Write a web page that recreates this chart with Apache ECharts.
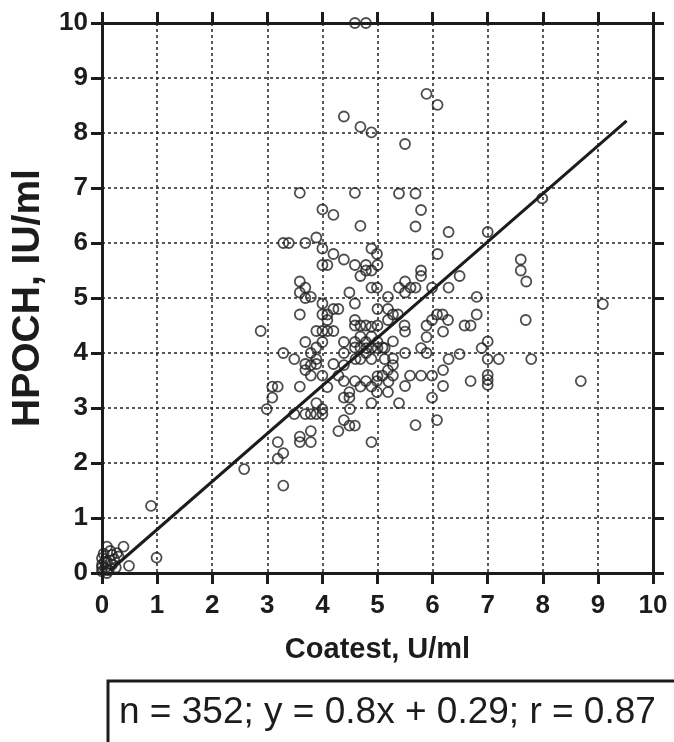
<!DOCTYPE html>
<html>
<head>
<meta charset="utf-8">
<script src="https://cdn.jsdelivr.net/npm/echarts@6/dist/echarts.min.js"></script>
<style>
  html, body { margin: 0; padding: 0; background: #fff; }
  #chart { width: 674px; height: 742px; }
</style>
</head>
<body>
<div id="chart"></div>
<script>
// Coatest (x) and HPOCH (y) readings
const coatest = [
  0.00, 0.09, 0.06, 0.00, 0.18, 0.09, 0.00, 0.18, 0.27, 0.09, 0.39, 0.49, 0.03, 0.12, 0.22, 0.30, 0.05, 0.15, 0.00, 0.25,
  0.99, 0.89, 2.58, 3.29,
  4.59, 4.79, 5.89, 6.09, 4.39, 4.69, 4.89, 5.50,
  3.59, 4.59, 5.39, 5.69, 7.99, 4.00, 5.79, 4.20,
  4.69, 5.69, 6.29, 7.00, 3.29, 3.39, 3.69, 3.89,
  4.00, 4.89, 4.20, 4.99, 6.09, 4.39, 7.60,
  4.00, 4.09, 4.59, 4.79, 5.00, 4.79, 4.89, 5.79, 7.60,
  4.69, 5.79, 6.49, 3.59, 5.50, 7.70,
  3.69, 4.89, 4.99, 5.39, 5.60, 5.69, 5.99, 6.29,
  3.59, 4.49, 5.50, 3.69, 3.79, 5.19, 6.80,
  4.00, 4.59, 9.09, 4.20, 4.29, 5.00, 5.19,
  3.59, 4.00, 4.09, 5.28, 5.37, 6.08, 6.18, 6.80,
  4.09, 4.59, 5.19, 5.99, 6.28, 7.69,
  4.59, 4.69, 4.79, 5.00, 5.49, 5.89, 6.58, 6.69, 4.89,
  2.88, 3.89, 4.00, 4.09, 4.20, 5.50, 6.19,
  4.69, 4.89, 5.89,
  3.69, 4.00, 4.39, 4.59, 4.79, 5.00, 5.28, 7.00,
  3.89, 4.59, 4.69, 4.89, 5.09, 4.80, 5.00, 5.13, 5.79, 6.89,
  3.29, 3.79, 4.39, 4.79, 5.50, 5.89, 6.49,
  3.49, 3.89, 4.89, 4.60, 4.69, 5.13, 5.28, 6.29, 7.00, 7.20, 7.79,
  3.69, 3.79, 3.89, 4.20, 4.39, 5.28,
  3.69, 5.19, 6.19,
  3.79, 4.00, 4.29, 5.09, 5.00, 5.28, 5.59, 5.79, 5.99, 7.00,
  4.39, 4.59, 4.79, 4.99, 5.20, 6.69, 7.00, 8.69,
  3.09, 3.19, 3.59, 4.69, 4.89, 4.09, 5.50, 6.19, 7.00,
  4.49, 4.99, 5.19,
  3.09, 4.39, 4.49, 5.99,
  3.89, 4.89, 5.39,
  2.99, 4.00, 4.50,
  3.49, 3.69, 3.79, 3.89, 4.00,
  4.39, 6.08, 4.49, 4.59, 5.69,
  3.79, 4.29, 3.59, 3.59, 3.79, 4.89, 3.19,
  3.29, 3.19
];
const hpoch = [
  0.03, 0.00, 0.09, 0.15, 0.15, 0.21, 0.27, 0.33, 0.36, 0.48, 0.48, 0.13, 0.35, 0.05, 0.25, 0.30, 0.20, 0.40, 0.10, 0.10,
  0.28, 1.22, 1.89, 1.59,
  10.0, 10.0, 8.71, 8.51, 8.30, 8.11, 8.01, 7.80,
  6.91, 6.91, 6.90, 6.90, 6.81, 6.61, 6.60, 6.51,
  6.31, 6.30, 6.20, 6.20, 6.00, 6.00, 6.00, 6.10,
  5.90, 5.90, 5.80, 5.80, 5.80, 5.70, 5.70,
  5.60, 5.60, 5.60, 5.60, 5.60, 5.50, 5.50, 5.50, 5.50,
  5.40, 5.40, 5.40, 5.30, 5.30, 5.30,
  5.19, 5.19, 5.19, 5.19, 5.19, 5.19, 5.19, 5.19,
  5.10, 5.10, 5.10, 5.00, 5.02, 5.02, 5.02,
  4.90, 4.90, 4.89, 4.80, 4.80, 4.80, 4.80,
  4.70, 4.70, 4.70, 4.70, 4.70, 4.70, 4.70, 4.70,
  4.60, 4.60, 4.60, 4.60, 4.60, 4.60,
  4.50, 4.50, 4.50, 4.50, 4.50, 4.50, 4.50, 4.50, 4.48,
  4.40, 4.40, 4.40, 4.40, 4.40, 4.39, 4.39,
  4.30, 4.30, 4.29,
  4.20, 4.20, 4.20, 4.20, 4.20, 4.20, 4.21, 4.21,
  4.10, 4.10, 4.10, 4.10, 4.10, 4.09, 4.09, 4.09, 4.09, 4.09,
  4.00, 4.00, 4.00, 4.00, 4.00, 4.00, 3.98,
  3.89, 3.89, 3.89, 3.89, 3.89, 3.89, 3.90, 3.89, 3.89, 3.89, 3.89,
  3.80, 3.78, 3.80, 3.80, 3.78, 3.78,
  3.69, 3.69, 3.69,
  3.59, 3.59, 3.59, 3.59, 3.58, 3.59, 3.59, 3.59, 3.59, 3.60,
  3.49, 3.49, 3.49, 3.49, 3.48, 3.49, 3.51, 3.49,
  3.39, 3.39, 3.39, 3.39, 3.39, 3.38, 3.40, 3.40, 3.42,
  3.29, 3.29, 3.29,
  3.19, 3.19, 3.19, 3.19,
  3.09, 3.09, 3.09,
  2.98, 2.98, 2.98,
  2.89, 2.89, 2.89, 2.89, 2.89,
  2.78, 2.78, 2.68, 2.68, 2.69,
  2.58, 2.58, 2.48, 2.38, 2.38, 2.38, 2.38,
  2.18, 2.08
];

// regression line ends as drawn
const fitX = [0.15, 9.52];
const fitY = [0.05, 8.22];

const tickValues = [0, 1, 2, 3, 4, 5, 6, 7, 8, 9, 10];
const statsText = 'n = 352; y = 0.8x + 0.29; r = 0.87';

const ink = '#1c1c1c';
const font = 'Liberation Sans, Arial, sans-serif';

const points = coatest.map((x, i) => [x, hpoch[i]]);
const fitLine = fitX.map((x, i) => [x, fitY[i]]);

const chart = echarts.init(document.getElementById('chart'));

const baseAxis = {
  type: 'value',
  min: tickValues[0],
  max: tickValues[tickValues.length - 1],
  interval: 1,
  axisLine: { show: true, onZero: false, lineStyle: { color: ink, width: 3 } },
  axisTick: { show: true, inside: false, length: 11, lineStyle: { color: ink, width: 3 } }
};

const option = {
  animation: false,
  backgroundColor: '#fff',
  grid: { left: 102, right: 21, top: 23, bottom: 169 },
  xAxis: [
    Object.assign({}, baseAxis, {
      position: 'bottom',
      name: 'Coatest, U/ml',
      nameLocation: 'middle',
      nameGap: 62,
      nameTextStyle: { fontFamily: font, fontWeight: 'bold', fontSize: 29, color: ink },
      axisLabel: { fontFamily: font, fontWeight: 'bold', fontSize: 26, color: ink, margin: 20 },
      splitLine: { show: true, lineStyle: { color: '#222', width: 1.5, type: [3, 3] } }
    }),
    Object.assign({}, baseAxis, {
      position: 'top',
      axisLabel: { show: false },
      splitLine: { show: false }
    })
  ],
  yAxis: [
    Object.assign({}, baseAxis, {
      position: 'left',
      name: 'HPOCH, IU/ml',
      nameLocation: 'middle',
      nameGap: 54,
      nameTextStyle: { fontFamily: font, fontWeight: 'bold', fontSize: 39, color: ink },
      axisLabel: { fontFamily: font, fontWeight: 'bold', fontSize: 26, color: ink, margin: 14 },
      splitLine: { show: true, lineStyle: { color: '#222', width: 1.5, type: [3, 3] } }
    }),
    Object.assign({}, baseAxis, {
      position: 'right',
      axisLabel: { show: false },
      splitLine: { show: false }
    })
  ],
  series: [
    {
      type: 'scatter',
      xAxisIndex: 0,
      yAxisIndex: 0,
      data: points,
      symbol: 'circle',
      symbolSize: 10,
      itemStyle: { color: 'rgba(255,255,255,0)', borderColor: '#222', borderWidth: 1.8 },
      z: 3
    },
    {
      type: 'line',
      xAxisIndex: 0,
      yAxisIndex: 0,
      data: fitLine,
      symbol: 'none',
      lineStyle: { color: ink, width: 3 },
      z: 4
    }
  ],
  graphic: [
    {
      type: 'rect',
      shape: { x: 108, y: 681, width: 620, height: 100 },
      style: { fill: 'none', stroke: ink, lineWidth: 3 }
    },
    {
      type: 'text',
      x: 119,
      y: 713,
      style: {
        text: statsText,
        font: '37px ' + font,
        fill: ink,
        verticalAlign: 'middle'
      }
    }
  ]
};

chart.setOption(option);
</script>
</body>
</html>
